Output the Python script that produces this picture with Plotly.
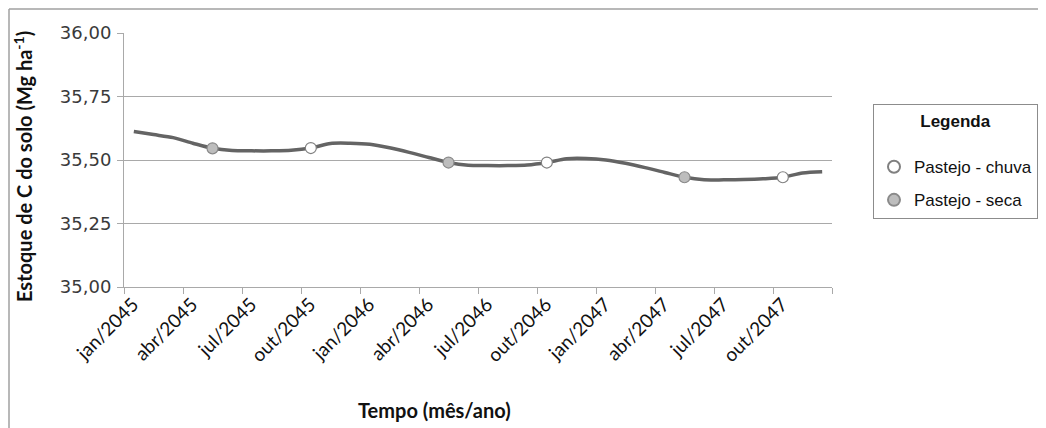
import plotly.graph_objects as go

# ---------------- data ----------------
anos = ["2045", "2046", "2047"]
meses_abrev = ["jan", "fev", "mar", "abr", "mai", "jun",
               "jul", "ago", "set", "out", "nov", "dez"]
meses = [f"{m}/{a}" for a in anos for m in meses_abrev]

estoque_c = [35.612, 35.600, 35.588, 35.566, 35.546, 35.537,
             35.536, 35.536, 35.538, 35.547, 35.565, 35.566,
             35.562, 35.548, 35.530, 35.510, 35.490, 35.479,
             35.478, 35.478, 35.480, 35.490, 35.505, 35.506,
             35.500, 35.487, 35.470, 35.451, 35.432, 35.422,
             35.422, 35.423, 35.426, 35.432, 35.449, 35.454]

meses_chuva = ["out/2045", "out/2046", "out/2047"]
meses_seca = ["mai/2045", "mai/2046", "mai/2047"]

rotulos_x = ["jan/2045", "abr/2045", "jul/2045", "out/2045",
             "jan/2046", "abr/2046", "jul/2046", "out/2046",
             "jan/2047", "abr/2047", "jul/2047", "out/2047"]
y_ticks = [35.00, 35.25, 35.50, 35.75, 36.00]

# ---------------- helpers ----------------
pos = {m: i + 0.5 for i, m in enumerate(meses)}       # month centres
val = dict(zip(meses, estoque_c))
x_line = [pos[m] for m in meses]
tick_pos = [meses.index(r) for r in rotulos_x] + [len(meses)]
tick_txt = rotulos_x + [""]

LINE = "#646464"
GRID = "#a9a9a9"

fig = go.Figure()
fig.add_trace(go.Scatter(
    x=x_line, y=estoque_c, mode="lines",
    line=dict(color=LINE, width=3.5, shape="spline", smoothing=0.8),
    showlegend=False, hoverinfo="skip"))
fig.add_trace(go.Scatter(
    x=[pos[m] for m in meses_chuva], y=[val[m] for m in meses_chuva],
    mode="markers", name="Pastejo - chuva", legendgroup="a",
    marker=dict(size=11, color="white", line=dict(color="#808080", width=1.2))))
fig.add_trace(go.Scatter(
    x=[pos[m] for m in meses_seca], y=[val[m] for m in meses_seca],
    mode="markers", name="Pastejo - seca", legendgroup="b",
    marker=dict(size=11, color="#bdbdbd", line=dict(color="#8a8a8a", width=1.2))))

# page body has an 8px margin, so the figure starts at (8, 8) of the window
OFF = 8
W, H = 1046 - OFF, 428 - OFF
L_abs, T_abs, R_abs, B_abs = 124, 33, 832, 287
L, T = L_abs - OFF, T_abs - OFF
R, B = W - (R_abs - OFF), H - (B_abs - OFF)
pw, ph = R_abs - L_abs, B_abs - T_abs


def px(xp):
    return (xp - L_abs) / pw


def py(yp):
    return (B_abs - yp) / ph


def cx(xp):
    return (xp - OFF) / W


def cy(yp):
    return 1 - (yp - OFF) / H


fig.update_layout(
    width=W, height=H,
    margin=dict(l=L, r=R, t=T, b=B, pad=0, autoexpand=False),
    paper_bgcolor="white", plot_bgcolor="white",
    separators=",.",
    showlegend=True,
    legend=dict(
        xref="container", yref="container",
        x=cx(873), y=cy(104), xanchor="left", yanchor="top",
        bordercolor="#8c8c8c", borderwidth=1, bgcolor="white",
        font=dict(family="Liberation Sans, Arial", size=17, color="#111"),
        title=dict(text="<b>Legenda</b><br> ", side="top center",
                   font=dict(family="Liberation Sans, Arial", size=17, color="#111")),
        tracegroupgap=8, itemsizing="constant",
    ),
    xaxis=dict(
        range=[0, len(meses)], tickmode="array", tickvals=tick_pos, ticktext=tick_txt,
        tickangle=-45, showgrid=False, zeroline=False,
        showline=True, linecolor=GRID, linewidth=1,
        ticks="outside", ticklen=6, tickcolor=GRID,
        ticklabelshift=9, ticklabelstandoff=-8,
        tickfont=dict(family="Lato, Carlito, sans-serif", size=19, color="#111"),
    ),
    yaxis=dict(
        range=[35, 36], tickmode="array", tickvals=y_ticks, tickformat=".2f",
        showgrid=True, gridcolor=GRID, gridwidth=1, zeroline=False,
        showline=True, linecolor=GRID, linewidth=1,
        ticks="outside", ticklen=6, tickcolor=GRID,
        ticklabelstandoff=2,
        tickfont=dict(family="DejaVu Sans, Verdana", size=18, color="#3a3a3a"),
    ),
    annotations=[
        dict(text="<b>Estoque de C do solo (Mg ha<sup>-1</sup>)</b>", textangle=-90,
             xref="paper", yref="paper", x=px(23), y=py(167),
             xanchor="center", yanchor="middle", showarrow=False,
             font=dict(family="Lato, Carlito, sans-serif", size=20, color="#111")),
        dict(text="<b>Tempo (mês/ano)</b>",
             xref="paper", yref="paper", x=px(434), y=py(410),
             xanchor="center", yanchor="middle", showarrow=False,
             font=dict(family="Lato, Carlito, sans-serif", size=20, color="#111")),
    ],
    shapes=[
        dict(type="line", xref="paper", yref="paper",
             x0=px(9), x1=px(9), y0=py(9), y1=py(460),
             line=dict(color="#a0a0a0", width=1.5)),
        dict(type="line", xref="paper", yref="paper",
             x0=px(9), x1=px(1080), y0=py(9), y1=py(9),
             line=dict(color="#a0a0a0", width=1.5)),
    ],
)

fig.write_html("out.html")
